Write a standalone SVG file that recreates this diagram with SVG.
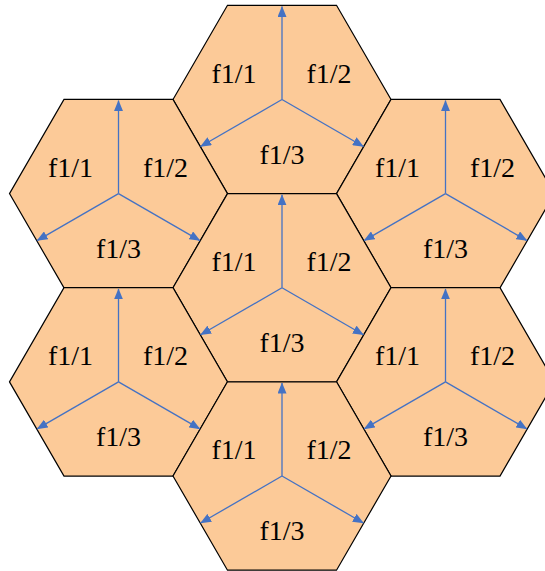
<svg xmlns="http://www.w3.org/2000/svg" xmlns:xlink="http://www.w3.org/1999/xlink" width="545" height="571" viewBox="0 0 545 571">
<defs>
<marker id="ah" viewBox="0 0 11 9" refX="10.5" refY="4.5" markerWidth="11" markerHeight="9" markerUnits="userSpaceOnUse" orient="auto">
<path d="M0,0 L11,4.5 L0,9 z" fill="#4472C4"/>
</marker>
<polygon id="hx" points="-109,0 -54.5,-94.2 54.5,-94.2 109,0 54.5,94.2 -54.5,94.2" fill="#FCCA98" stroke="#000" stroke-width="1.2"/>
<g id="ar" stroke="#4472C4" stroke-width="1.3" fill="none">
<line x1="0" y1="0" x2="0" y2="-93" marker-end="url(#ah)"/>
<line x1="0" y1="0" x2="-81.4" y2="47" marker-end="url(#ah)"/>
<line x1="0" y1="0" x2="81.4" y2="47" marker-end="url(#ah)"/>
</g>
<g id="lb">
<text x="-48" y="-17" font-family="Liberation Serif" font-size="28" text-anchor="middle" fill="#000">f1/1</text>
<text x="47" y="-17" font-family="Liberation Serif" font-size="28" text-anchor="middle" fill="#000">f1/2</text>
<text x="0" y="64" font-family="Liberation Serif" font-size="28" text-anchor="middle" fill="#000">f1/3</text>
</g>
</defs>
<g id="hex-top" transform="translate(282,99.5)">
<use xlink:href="#hx"/>
<text x="-48" y="-17" font-family="Liberation Serif" font-size="28" text-anchor="middle">f1/1</text><text x="47" y="-17" font-family="Liberation Serif" font-size="28" text-anchor="middle">f1/2</text><text x="0" y="64" font-family="Liberation Serif" font-size="28" text-anchor="middle">f1/3</text>
</g>
<g id="hex-left-top" transform="translate(118.5,193.6)">
<use xlink:href="#hx"/>
<text x="-48" y="-17" font-family="Liberation Serif" font-size="28" text-anchor="middle">f1/1</text><text x="47" y="-17" font-family="Liberation Serif" font-size="28" text-anchor="middle">f1/2</text><text x="0" y="64" font-family="Liberation Serif" font-size="28" text-anchor="middle">f1/3</text>
</g>
<g id="hex-right-top" transform="translate(445.5,193.6)">
<use xlink:href="#hx"/>
<text x="-48" y="-17" font-family="Liberation Serif" font-size="28" text-anchor="middle">f1/1</text><text x="47" y="-17" font-family="Liberation Serif" font-size="28" text-anchor="middle">f1/2</text><text x="0" y="64" font-family="Liberation Serif" font-size="28" text-anchor="middle">f1/3</text>
</g>
<g id="hex-center" transform="translate(282,287.8)">
<use xlink:href="#hx"/>
<text x="-48" y="-17" font-family="Liberation Serif" font-size="28" text-anchor="middle">f1/1</text><text x="47" y="-17" font-family="Liberation Serif" font-size="28" text-anchor="middle">f1/2</text><text x="0" y="64" font-family="Liberation Serif" font-size="28" text-anchor="middle">f1/3</text>
</g>
<g id="hex-left-bottom" transform="translate(118.5,381.9)">
<use xlink:href="#hx"/>
<text x="-48" y="-17" font-family="Liberation Serif" font-size="28" text-anchor="middle">f1/1</text><text x="47" y="-17" font-family="Liberation Serif" font-size="28" text-anchor="middle">f1/2</text><text x="0" y="64" font-family="Liberation Serif" font-size="28" text-anchor="middle">f1/3</text>
</g>
<g id="hex-right-bottom" transform="translate(445.5,381.9)">
<use xlink:href="#hx"/>
<text x="-48" y="-17" font-family="Liberation Serif" font-size="28" text-anchor="middle">f1/1</text><text x="47" y="-17" font-family="Liberation Serif" font-size="28" text-anchor="middle">f1/2</text><text x="0" y="64" font-family="Liberation Serif" font-size="28" text-anchor="middle">f1/3</text>
</g>
<g id="hex-bottom" transform="translate(282,476)">
<use xlink:href="#hx"/>
<text x="-48" y="-17" font-family="Liberation Serif" font-size="28" text-anchor="middle">f1/1</text><text x="47" y="-17" font-family="Liberation Serif" font-size="28" text-anchor="middle">f1/2</text><text x="0" y="64" font-family="Liberation Serif" font-size="28" text-anchor="middle">f1/3</text>
</g>
<g id="connectors">
<use xlink:href="#ar" transform="translate(282,99.5)"/>
<use xlink:href="#ar" transform="translate(118.5,193.6)"/>
<use xlink:href="#ar" transform="translate(445.5,193.6)"/>
<use xlink:href="#ar" transform="translate(282,287.8)"/>
<use xlink:href="#ar" transform="translate(118.5,381.9)"/>
<use xlink:href="#ar" transform="translate(445.5,381.9)"/>
<use xlink:href="#ar" transform="translate(282,476)"/>
</g>
</svg>
